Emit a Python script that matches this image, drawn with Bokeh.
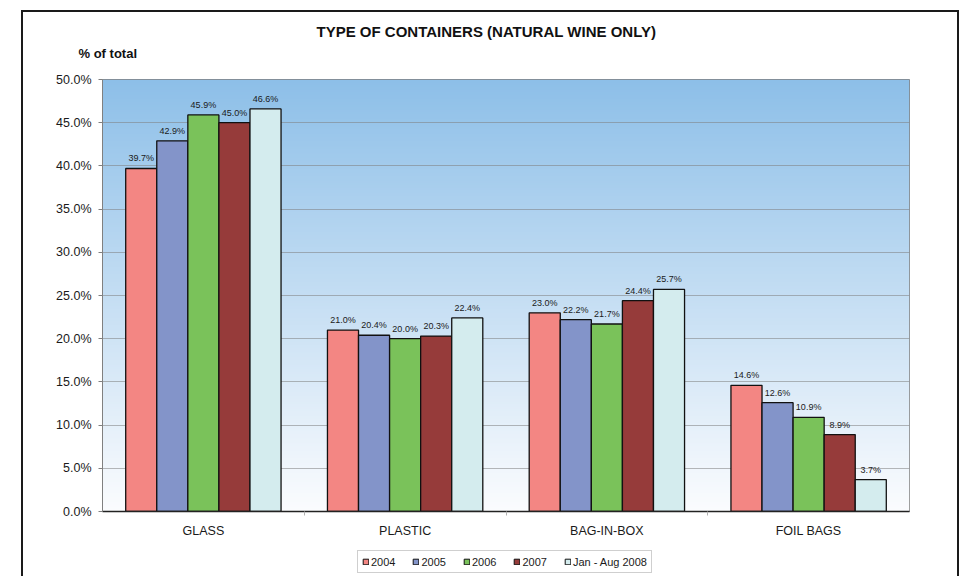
import numpy as np
from bokeh.plotting import figure
from bokeh.layouts import column
from bokeh.models import (ColumnDataSource, Range1d, FixedTicker, CustomJSTickFormatter,
                          PrintfTickFormatter, Legend, LegendItem, Title)
from bokeh.transform import dodge
from bokeh.core.properties import value
from bokeh.embed import file_html
from bokeh.resources import INLINE

# ---- data -------------------------------------------------------------
categories = ["GLASS", "PLASTIC", "BAG-IN-BOX", "FOIL BAGS"]
series_names = ["2004", "2005", "2006", "2007", "Jan - Aug 2008"]
share_2004 = [39.7, 21.0, 23.0, 14.6]
share_2005 = [42.9, 20.4, 22.2, 12.6]
share_2006 = [45.9, 20.0, 21.7, 10.9]
share_2007 = [45.0, 20.3, 24.4, 8.9]
share_2008 = [46.6, 22.4, 25.7, 3.7]
y_ticks = [0, 5, 10, 15, 20, 25, 30, 35, 40, 45, 50]

series_values = [share_2004, share_2005, share_2006, share_2007, share_2008]
colors = ["#F38683", "#8394C9", "#7AC25A", "#963B3A", "#D4ECEE"]

FONT = "Liberation Sans"
TXT = "#1a1a1a"
W = 960
FOOT_H = 31
MAIN_H = 576 - FOOT_H

src = {"x": [i + 0.5 for i in range(len(categories))]}
for k, vals in enumerate(series_values):
    src[f"s{k}"] = vals
    src[f"l{k}"] = [f"{v:.1f}%" for v in vals]
source = ColumnDataSource(src)

bar_w = 0.154
offsets = [-2 * bar_w, -bar_w, 0.0, bar_w, 2 * bar_w]

# ---- main bar chart -----------------------------------------------------
p = figure(width=W, height=MAIN_H, output_backend="svg", toolbar_location=None,
           x_range=Range1d(0, len(categories)), y_range=Range1d(0, 50),
           min_border_left=102, min_border_right=51, min_border_top=79,
           min_border_bottom=34, background_fill_color="white",
           border_fill_color="white")
p.outline_line_color = "#808080"
p.outline_line_width = 1

# vertical blue-to-white gradient behind the bars
n = 256
t = np.linspace(0.0, 1.0, n)  # 0 at bottom, 1 at top
bottom_c = np.array([0xFB, 0xFC, 0xFE], dtype=float)
top_c = np.array([0x8D, 0xBF, 0xE8], dtype=float)
rgb = (bottom_c[None, :] * (1 - t[:, None]) + top_c[None, :] * t[:, None]).round().astype(np.uint8)
img = np.empty((n, 1), dtype=np.uint32)
view = img.view(dtype=np.uint8).reshape((n, 1, 4))
view[:, 0, 0] = rgb[:, 0]
view[:, 0, 1] = rgb[:, 1]
view[:, 0, 2] = rgb[:, 2]
view[:, 0, 3] = 255
p.image_rgba(image=[img], x=0, y=0, dw=len(categories), dh=50, level="image")

# bars and value labels
for k, name in enumerate(series_names):
    p.vbar(x=dodge("x", offsets[k], range=p.x_range), top=f"s{k}", width=bar_w,
           source=source, fill_color=colors[k], line_color="#111111", line_width=1.3)
    p.text(x=dodge("x", offsets[k], range=p.x_range), y=f"s{k}", text=f"l{k}",
           source=source, text_align="center", text_baseline="bottom", y_offset=-5,
           text_font=value(FONT), text_font_size="9px", text_color=TXT)

# grid
p.xgrid.visible = False
p.ygrid.ticker = FixedTicker(ticks=y_ticks)
p.ygrid.grid_line_color = "#7f7f7f"
p.ygrid.grid_line_alpha = 0.55
p.ygrid.grid_line_width = 1

# y axis
p.yaxis.ticker = FixedTicker(ticks=y_ticks)
p.yaxis.formatter = PrintfTickFormatter(format="%.1f%%")
p.yaxis.axis_line_color = "#808080"
p.yaxis.major_tick_line_color = "#808080"
p.yaxis.major_tick_out = 4
p.yaxis.major_tick_in = 0
p.yaxis.minor_tick_line_color = None
p.yaxis.major_label_standoff = 7
p.yaxis.major_label_text_font = FONT
p.yaxis.major_label_text_font_size = "12.5px"
p.yaxis.major_label_text_color = TXT

# x axis: category names at group centres, small ticks between groups
p.xaxis.ticker = FixedTicker(ticks=src["x"], minor_ticks=list(range(1, len(categories))))
p.xaxis.formatter = CustomJSTickFormatter(args=dict(cats=categories),
                                          code="return cats[Math.floor(tick)];")
p.xaxis.axis_line_color = "#222222"
p.xaxis.axis_line_width = 1.3
p.xaxis.major_tick_line_color = None
p.xaxis.major_tick_out = 0
p.xaxis.minor_tick_line_color = "#b0b0b0"
p.xaxis.minor_tick_out = 4
p.xaxis.minor_tick_in = 0
p.xaxis.major_label_standoff = 8
p.xaxis.major_label_text_font = FONT
p.xaxis.major_label_text_font_size = "12.5px"
p.xaxis.major_label_text_color = TXT

# chart title (outermost); a small gap and the axis caption sit below it
p.title.text = "TYPE OF CONTAINERS (NATURAL WINE ONLY)"
p.title.align = "left"
p.title.offset = 214
p.title.standoff = 4
p.title.text_font = FONT
p.title.text_font_size = "15px"
p.title.text_font_style = "bold"
p.title.text_color = "#111111"

# panels added here stack outward from the plot area in this order
p.add_layout(Title(text=" ", standoff=14, text_font_size="1px"), "above")
p.add_layout(Title(text="% of total", align="left", offset=-24, standoff=4,
                   text_font=FONT, text_font_size="13px", text_font_style="bold",
                   text_color="#111111"), "above")

# ---- legend strip below the chart --------------------------------------
# the strip's y range sits far above the data, so its series stay out of view
# and only the legend swatches show
foot = figure(width=W, height=FOOT_H, output_backend="svg", toolbar_location=None,
              x_range=p.x_range, y_range=Range1d(100, 101),
              x_axis_location=None, y_axis_location=None, min_border=0,
              background_fill_color="white", border_fill_color="white")
foot.grid.visible = False
foot.outline_line_color = None
legend_items = []
for k, name in enumerate(series_names):
    swatch = foot.vbar(x=dodge("x", offsets[k], range=foot.x_range), top=f"s{k}",
                       width=0, source=source, fill_color=colors[k],
                       line_color="#111111", line_width=1)
    legend_items.append(LegendItem(label=name, renderers=[swatch]))
legend = Legend(items=legend_items, orientation="horizontal", location=(255, 3),
                border_line_color="#a0a0a0", border_line_width=1,
                background_fill_color="white", background_fill_alpha=1,
                padding=4, spacing=17, margin=0, label_standoff=2,
                glyph_width=7, glyph_height=7, label_height=13,
                label_text_font=FONT, label_text_font_size="11px",
                label_text_color=TXT)
foot.add_layout(legend)

layout = column(p, foot, spacing=0)

# page-level frame around the whole chart
page_css = """
{% block postamble %}
<style>
body::after {
  content: "";
  position: fixed;
  left: 21px; top: 10px; width: 934px; height: 640px;
  border: 2px solid #1a1a1a;
  pointer-events: none;
}
</style>
{% endblock %}
"""

open("out.html", "w").write(file_html(layout, INLINE, template=page_css))
